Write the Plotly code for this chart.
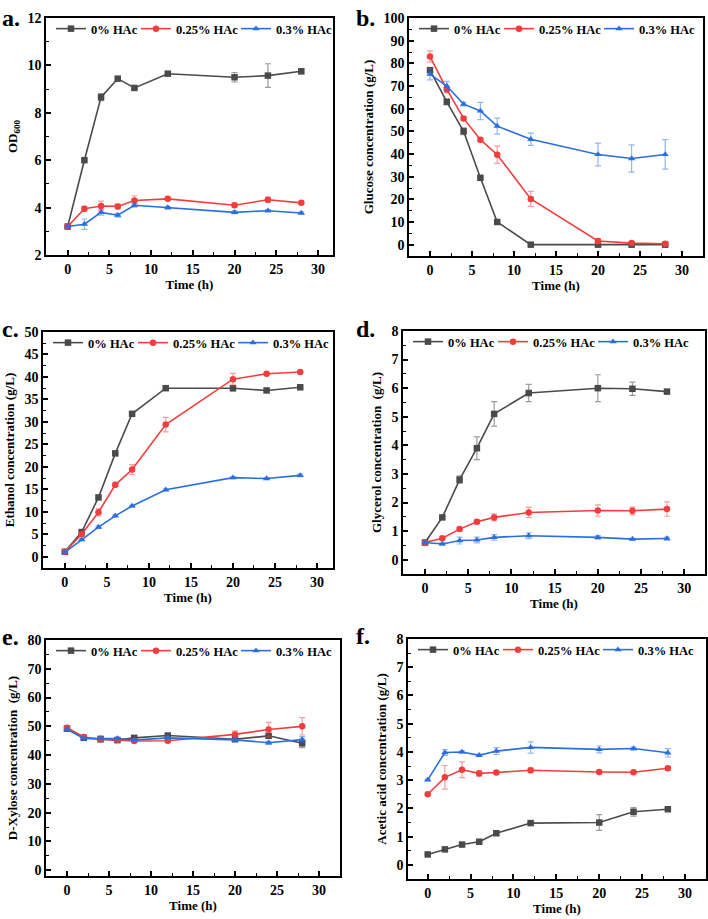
import plotly.graph_objects as go

W, H = 708, 919
FONT = "Liberation Serif"

time_h = [0, 2, 4, 6, 8, 12, 20, 24, 28]
series_names = ["0% HAc", "0.25% HAc", "0.3% HAc"]
panel_labels = ["a.", "b.", "c.", "d.", "e.", "f."]
y_titles = [
    "OD<sub>600</sub>",
    "Glucose concentration (g/L)",
    "Ethanol concentration (g/L)",
    "Glycerol concentration  (g/L)",
    "D-Xylose concentration  (g/L)",
    "Acetic acid concentration (g/L)",
]
x_title = "Time (h)"

# a. OD600
od_0 = [3.2, 6.0, 8.66, 9.44, 9.05, 9.65, 9.5, 9.57, 9.75]
od_0_err = [0.05, 0.05, 0.15, 0.05, 0.05, 0.04, 0.2, 0.5, 0.1]
od_025 = [3.2, 3.95, 4.07, 4.05, 4.3, 4.37, 4.1, 4.33, 4.2]
od_025_err = [0.05, 0.1, 0.2, 0.1, 0.2, 0.08, 0.08, 0.1, 0.05]
od_03 = [3.2, 3.3, 3.8, 3.68, 4.1, 4.0, 3.8, 3.87, 3.77]
od_03_err = [0.05, 0.22, 0.12, 0.08, 0.08, 0.05, 0.06, 0.05, 0.05]

# b. Glucose
glu_0 = [77.0, 63.0, 50.0, 29.5, 10.0, 0.0, 0.0, 0.0, 0.0]
glu_0_err = [1.0, 1.2, 1.5, 0.5, 0.5, 0.2, 0.2, 0.2, 0.2]
glu_025 = [83.0, 68.5, 55.7, 46.3, 39.7, 20.2, 1.6, 0.7, 0.4]
glu_025_err = [2.5, 1.5, 0.8, 0.8, 3.8, 3.3, 1.0, 0.5, 0.3]
glu_03 = [75.2, 70.0, 62.0, 59.0, 52.3, 46.5, 39.8, 38.0, 39.8]
glu_03_err = [2.5, 2.0, 0.8, 3.8, 3.5, 2.7, 5.0, 6.0, 6.5]

# c. Ethanol
eth_0 = [1.1, 5.5, 13.2, 23.0, 31.8, 37.5, 37.5, 37.0, 37.7]
eth_0_err = [0.2, 0.2, 0.3, 0.2, 0.5, 0.2, 0.6, 0.2, 0.2]
eth_025 = [1.1, 5.0, 9.9, 16.0, 19.4, 29.4, 39.5, 40.7, 41.1]
eth_025_err = [0.2, 0.3, 0.8, 0.4, 1.1, 1.6, 1.3, 0.2, 0.2]
eth_03 = [1.0, 3.8, 6.6, 9.1, 11.3, 14.9, 17.6, 17.4, 18.1]
eth_03_err = [0.2, 0.2, 0.3, 0.2, 0.2, 0.2, 0.2, 0.2, 0.3]

# d. Glycerol
gly_0 = [0.6, 1.48, 2.8, 3.9, 5.1, 5.83, 6.0, 5.98, 5.88]
gly_0_err = [0.03, 0.03, 0.13, 0.4, 0.43, 0.3, 0.47, 0.23, 0.05]
gly_025 = [0.6, 0.75, 1.07, 1.33, 1.48, 1.65, 1.72, 1.71, 1.77]
gly_025_err = [0.03, 0.04, 0.05, 0.07, 0.12, 0.18, 0.2, 0.13, 0.25]
gly_03 = [0.6, 0.55, 0.67, 0.69, 0.78, 0.84, 0.78, 0.72, 0.74]
gly_03_err = [0.03, 0.04, 0.12, 0.1, 0.1, 0.1, 0.06, 0.03, 0.05]

# e. D-Xylose
xyl_0 = [49.2, 46.0, 45.5, 45.2, 46.0, 46.8, 45.5, 46.7, 44.1]
xyl_0_err = [0.5, 0.5, 0.5, 0.6, 0.5, 0.6, 0.5, 0.6, 1.5]
xyl_025 = [49.5, 46.3, 45.5, 45.3, 44.9, 45.0, 47.2, 48.9, 50.0]
xyl_025_err = [0.5, 0.5, 0.5, 0.5, 0.5, 0.5, 1.2, 2.5, 3.0]
xyl_03 = [49.0, 45.8, 45.8, 45.8, 45.2, 46.0, 45.3, 44.3, 45.4]
xyl_03_err = [0.5, 0.5, 1.0, 0.5, 0.5, 0.5, 0.5, 0.5, 1.0]

# f. Acetic acid
ace_0 = [0.37, 0.55, 0.72, 0.82, 1.12, 1.48, 1.5, 1.88, 1.97]
ace_0_err = [0.02, 0.02, 0.03, 0.03, 0.07, 0.03, 0.28, 0.15, 0.05]
ace_025 = [2.5, 3.1, 3.37, 3.24, 3.27, 3.35, 3.29, 3.28, 3.42]
ace_025_err = [0.03, 0.42, 0.28, 0.1, 0.04, 0.08, 0.03, 0.03, 0.07]
ace_03 = [3.01, 3.98, 4.0, 3.88, 4.03, 4.16, 4.09, 4.12, 3.97]
ace_03_err = [0.03, 0.1, 0.04, 0.04, 0.12, 0.2, 0.12, 0.05, 0.15]

panel_data = [
    [(od_0, od_0_err), (od_025, od_025_err), (od_03, od_03_err)],
    [(glu_0, glu_0_err), (glu_025, glu_025_err), (glu_03, glu_03_err)],
    [(eth_0, eth_0_err), (eth_025, eth_025_err), (eth_03, eth_03_err)],
    [(gly_0, gly_0_err), (gly_025, gly_025_err), (gly_03, gly_03_err)],
    [(xyl_0, xyl_0_err), (xyl_025, xyl_025_err), (xyl_03, xyl_03_err)],
    [(ace_0, ace_0_err), (ace_025, ace_025_err), (ace_03, ace_03_err)],
]

# layout (pixels): left, right, top, bottom of each plot frame
boxes = [
    (46, 333, 18, 255),
    (409, 703, 18, 256),
    (43, 333, 332, 568),
    (403, 705, 331, 574),
    (46, 340, 640, 876),
    (408, 706, 639, 879),
]
x_ranges = [[-2.6, 31.8], [-2.5, 32.5], [-2.6, 31.9], [-2.55, 32.4], [-2.5, 32.5], [-2.3, 32.45]]
y_ranges = [[2, 12], [-5, 100], [-2.5, 50], [-0.5, 8], [-2, 80], [-0.5, 8]]
y_dticks = [2, 10, 5, 1, 10, 1]
label_pos = [(0, 3), (354, 3), (0, 314), (354, 314), (0, 622), (354, 621)]

colors = ["#4a4a4a", "#f23d3d", "#2a6fe0"]
err_colors = ["rgba(74,74,74,0.55)", "rgba(242,61,61,0.5)", "rgba(42,111,224,0.5)"]
symbols = ["square", "circle", "triangle-up"]
legend_entry_w = [40, 55, 54]

tick_font = dict(family=FONT, size=14, color="black", weight="bold")
title_font = dict(family=FONT, size=13, color="black", weight="bold")
legend_font = dict(family=FONT, size=12.5, color="black", weight="bold")

fig = go.Figure()
layout = dict(
    width=W, height=H, margin=dict(l=0, r=0, t=0, b=0, autoexpand=False),
    paper_bgcolor="white", plot_bgcolor="white", showlegend=True,
)
annotations = []

for i in range(6):
    n = "" if i == 0 else str(i + 1)
    L, R, T, B = boxes[i]
    for j in range(3):
        y, e = panel_data[i][j]
        fig.add_trace(go.Scatter(
            x=time_h, y=y, name=series_names[j], mode="lines+markers",
            xaxis="x" + n, yaxis="y" + n, legend="legend" + n,
            line=dict(color=colors[j], width=1.6),
            marker=dict(symbol=symbols[j], size=6.5, color=colors[j]),
            error_y=dict(type="data", array=e, visible=True, color=err_colors[j],
                         thickness=1.2, width=3),
            legendwidth=legend_entry_w[j],
        ))
    common = dict(
        showline=True, linewidth=1.5, linecolor="black", mirror=True,
        showgrid=False, zeroline=False, ticks="inside", ticklen=5, tickwidth=1.5,
        tickcolor="black", tickfont=tick_font, automargin=False,
    )
    layout["xaxis" + n] = dict(
        common, domain=[L / W, R / W], range=x_ranges[i], anchor="y" + n,
        tick0=0, dtick=5,
        minor=dict(ticks="inside", ticklen=3, tickwidth=1.2, dtick=2.5, tickcolor="black"),
        title=dict(text=x_title, font=title_font, standoff=2),
    )
    yd = y_dticks[i]
    layout["yaxis" + n] = dict(
        common, domain=[1 - B / H, 1 - T / H], range=y_ranges[i], anchor="x" + n,
        tick0=0, dtick=yd,
        minor=dict(ticks="inside", ticklen=3, tickwidth=1.2, dtick=yd / 2, tickcolor="black"),
        title=dict(text=y_titles[i], font=title_font, standoff=7),
    )
    layout["legend" + n] = dict(
        orientation="h", x=(L + 5) / W, y=1 - (T - 4) / H,
        xanchor="left", yanchor="top", bgcolor="rgba(0,0,0,0)",
        font=legend_font, itemwidth=30, tracegroupgap=0,
    )
    lx, ly = label_pos[i]
    annotations.append(dict(
        text="<b>" + panel_labels[i] + "</b>", x=lx / W, y=1 - ly / H,
        xref="paper", yref="paper", xanchor="left", yanchor="top", showarrow=False,
        font=dict(family=FONT, size=24, color="black"),
    ))

layout["annotations"] = annotations
fig.update_layout(**layout)
fig.write_html(
    "out.html",
    config={"displayModeBar": False},
    post_script="document.body.style.margin='0';document.body.style.overflow='hidden';",
)
